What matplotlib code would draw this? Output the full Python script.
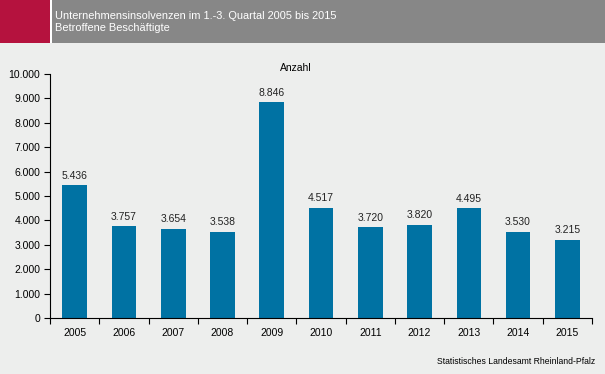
import matplotlib.pyplot as plt
from matplotlib.patches import Rectangle
import numpy as np

years = ['2005', '2006', '2007', '2008', '2009', '2010', '2011', '2012', '2013', '2014', '2015']
values = [5436, 3757, 3654, 3538, 8846, 4517, 3720, 3820, 4495, 3530, 3215]
y_ticks = list(range(0, 10001, 1000))

bg = '#edeeed'
bar_color = '#0072a3'


def de_fmt(v):
    return f'{v:,}'.replace(',', '.')


plt.rcParams['font.family'] = ['Liberation Sans', 'DejaVu Sans']

fig = plt.figure(figsize=(6.05, 3.74), dpi=100, facecolor=bg)

# header band
fig.patches.append(Rectangle((0, 1 - 43 / 374), 50 / 605, 43 / 374, transform=fig.transFigure,
                             facecolor='#b5123e', edgecolor='none'))
fig.patches.append(Rectangle((52 / 605, 1 - 43 / 374), 1 - 52 / 605, 43 / 374, transform=fig.transFigure,
                             facecolor='#878787', edgecolor='none'))
fig.patches.append(Rectangle((50 / 605, 1 - 43 / 374), 2 / 605, 43 / 374, transform=fig.transFigure,
                             facecolor='white', edgecolor='none'))
fig.text(55 / 605, 1 - 16 / 374, 'Unternehmensinsolvenzen im 1.-3. Quartal 2005 bis 2015',
         color='white', fontsize=7.9, va='center', ha='left')
fig.text(55 / 605, 1 - 28 / 374, 'Betroffene Beschäftigte',
         color='white', fontsize=7.9, va='center', ha='left')

ax = fig.add_axes([50 / 605, 1 - 318 / 374, 542 / 605, 244 / 374])
ax.set_facecolor(bg)

x = np.arange(len(years))
ax.bar(x, values, width=0.5, color=bar_color)
for xi, v in zip(x, values):
    ax.text(xi, v + 180, de_fmt(v), ha='center', va='bottom', fontsize=7.5, color='#222222')

ax.set_xlim(-0.5, len(years) - 0.5)
ax.set_ylim(0, 10000)
ax.set_yticks(y_ticks)
ax.set_yticklabels([de_fmt(t) for t in y_ticks], fontsize=7.5)
ax.set_xticks(x)
ax.set_xticklabels(years, fontsize=7.5)
ax.set_xticks(np.arange(-0.5, len(years)), minor=True)
ax.tick_params(axis='x', which='major', length=0, pad=7)
ax.tick_params(axis='x', which='minor', length=4, width=0.8, direction='out')
ax.tick_params(axis='y', length=4, width=0.8, direction='out', pad=3)

for s in ['top', 'right']:
    ax.spines[s].set_visible(False)
for s in ['left', 'bottom']:
    ax.spines[s].set_linewidth(0.8)

fig.text(296 / 605, 1 - 68 / 374, 'Anzahl', ha='center', va='center', fontsize=7.5)
fig.text(595 / 605, 1 - 362 / 374, 'Statistisches Landesamt Rheinland-Pfalz',
         ha='right', va='center', fontsize=6.2)

fig.savefig('out.png', dpi=100, facecolor=bg)
